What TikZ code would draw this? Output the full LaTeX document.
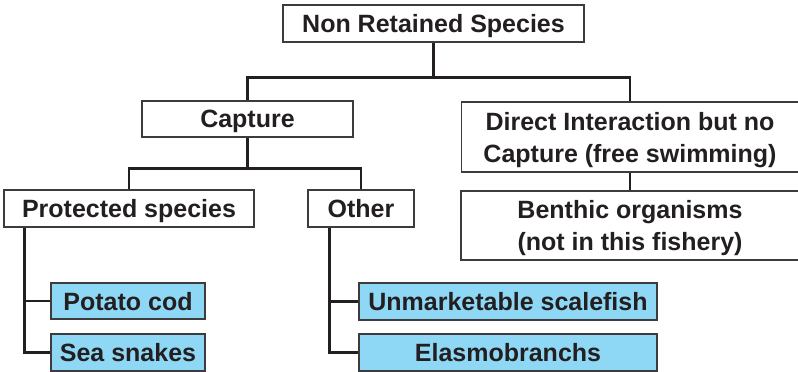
\documentclass[tikz,border=0pt]{standalone}
\usepackage{fontspec}
\setmainfont{Liberation Sans}
\definecolor{ink}{RGB}{35,31,32}
\definecolor{edge}{RGB}{60,60,60}
\definecolor{fishblue}{RGB}{142,216,246}
\tikzset{
  box/.style={draw=edge, line width=1.3pt, fill=white, inner sep=0pt,
    text=ink, align=center, text depth=0pt,
    font=\fontsize{25}{32}\selectfont\bfseries},
  leaf/.style={box, fill=fishblue},
  link/.style={draw=ink, line width=2.7pt}
}
\begin{document}
\begin{tikzpicture}[x=1pt,y=-1pt]
        \useasboundingbox (0,0) rectangle (798,372);
        % top level
        \node[box, minimum width=301, minimum height=37] (nrs) at (433.5,23.5) {Non Retained Species};
        \node[box, minimum width=211, minimum height=36] (cap) at (247.5,119) {Capture};
        \node[box, minimum width=337, minimum height=70] (dir) at (630,137) {Direct Interaction but no\\Capture (free swimming)};
        % second level
        \node[box, minimum width=250, minimum height=37] (prot) at (129,208.5) {Protected species};
        \node[box, minimum width=106, minimum height=37] (oth) at (361,208.5) {Other};
        \node[box, minimum width=338, minimum height=69] (ben) at (630,225.5) {Benthic organisms\\(not in this fishery)};
        % leaves
        \node[leaf, minimum width=154, minimum height=36] (pot) at (128,301) {Potato cod};
        \node[leaf, minimum width=154, minimum height=37] (sea) at (128,352.5) {Sea snakes};
        \node[leaf, minimum width=298, minimum height=37] (unm) at (508,301.5) {Unmarketable scalefish};
        \node[leaf, minimum width=298, minimum height=37] (ela) at (508,352.5) {Elasmobranchs};
        % connectors
        \coordinate (j1) at ([yshift=-35pt]nrs.south);
        \coordinate (j2) at ([yshift=-31pt]cap.south);
        \draw[link] (nrs.south) -- (j1);
        \draw[link] (cap.north) |- (j1) -| (dir.north);
        \draw[link] (cap.south) -- (j2);
        \draw[link] (prot.north) |- (j2) -| (oth.north);
        \draw[link] (dir.south) -- (ben.north);
        \draw[link] ([xshift=21pt]prot.south west) |- (sea.west);
        \draw[link] ([xshift=21pt]prot.south west) |- (pot.west);
        \draw[link] ([xshift=22pt]oth.south west) |- (ela.west);
        \draw[link] ([xshift=22pt]oth.south west) |- (unm.west);
    \end{tikzpicture}
\end{document}
